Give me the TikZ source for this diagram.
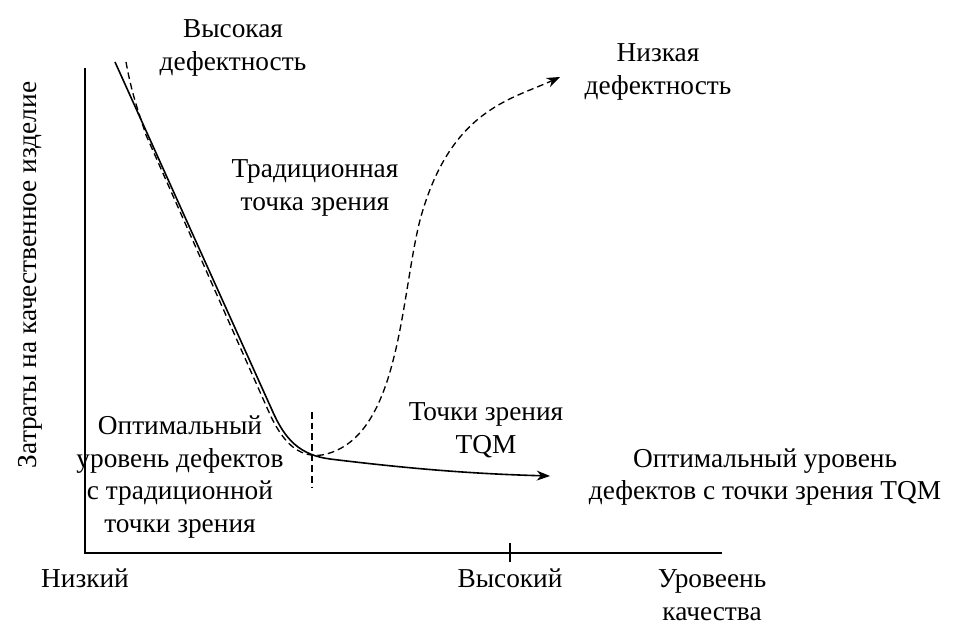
\documentclass[tikz,border=0pt]{standalone}
\usepackage{fontspec}
\setmainfont{Liberation Serif}
\usetikzlibrary{arrows.meta}
\begin{document}
\begin{tikzpicture}[x=0.75pt,y=-0.75pt,
  lbl/.style={align=center,font=\fontsize{20.5}{24.5}\selectfont,inner sep=0pt},
  ax/.style={line width=0.8pt},
  crv/.style={line width=1.2pt},
  dcrv/.style={line width=1pt,dash pattern=on 5pt off 3pt}]
\useasboundingbox (0,0) rectangle (980,634);
\coordinate (o) at (85,553);
\coordinate (ytop) at (85,68);
\coordinate (xend) at (722,553);
\draw[ax] (ytop) -- (o) -- (xend);
\coordinate (t1) at (510,543); \coordinate (t2) at (510,562);
\draw[ax] (t1) -- (t2);
\node[lbl,rotate=90] (yl) at (30,275) {Затраты на качественное изделие};
% solid
\coordinate (s0) at (115,62);
\coordinate (s1) at (272,410);
\coordinate (s2) at (550,476);
\draw[crv,-{Stealth[length=10pt]}] (s0) -- (s1) .. controls (285,440) and (300,455) .. (330,459) .. controls (420,470) and (480,474) .. (s2);
% dashed
\coordinate (d0) at (126,62);
\coordinate (dm) at (322,455);
\coordinate (d2) at (560,77);
\draw[dcrv,-{Stealth[length=10pt]}] (d0) .. controls (132,95) and (138,110) .. (146,135)
  -- (268,410) .. controls (282,442) and (298,458) .. (dm)
  .. controls (400,440) and (400,300) .. (420,220)
  .. controls (450,110) and (510,100) .. (d2);
\coordinate (v1) at (312,412); \coordinate (v2) at (312,488);
\draw[dcrv] (v1) -- (v2);
\node[lbl] (a) at (233,48) {Высокая\\дефектность};
\node[lbl] (b) at (658,72) {Низкая\\дефектность};
\node[lbl] (c) at (315,188) {Традиционная\\точка зрения};
\node[lbl] (d) at (486,430) {Точки зрения\\TQM};
\node[lbl] (e) at (180,477) {Оптимальный\\уровень дефектов\\с традиционной\\точки зрения};
\node[lbl] (f) at (765,477) {Оптимальный уровень\\дефектов с точки зрения TQM};
\node[lbl] (g) at (85,578) {Низкий};
\node[lbl] (h) at (510,578) {Высокий};
\node[lbl] (i) at (712,595) {Уровеень\\качества};
\end{tikzpicture}
\end{document}
